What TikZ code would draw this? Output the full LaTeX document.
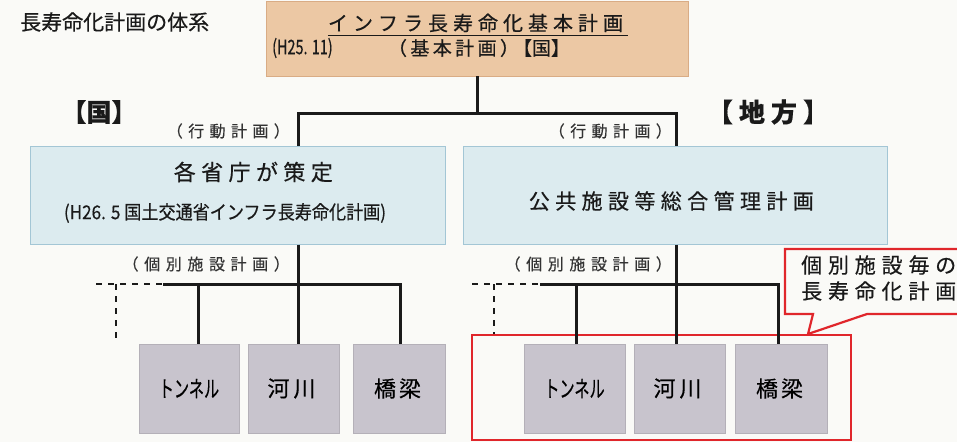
\documentclass[tikz,border=0pt]{standalone}
\usepackage{fontspec}
\setmainfont{Noto Sans CJK JP}[FakeBold=0.45]
\usepackage{graphicx}
\definecolor{bg}{HTML}{FAFAF7}
\definecolor{org}{HTML}{ECC8A4}
\definecolor{orgb}{HTML}{D9AC85}
\definecolor{blu}{HTML}{DCEBEF}
\definecolor{blub}{HTML}{A3C6D5}
\definecolor{gry}{HTML}{C8C4CD}
\definecolor{redc}{HTML}{E0262B}
\definecolor{txt}{HTML}{1A1A1A}
\definecolor{txtg}{HTML}{333333}
\newcommand{\fs}[1]{\fontsize{#1pt}{#1pt}\selectfont}
\ExplSyntaxOn
\NewDocumentCommand\spc{mm}{\tl_map_inline:nn {#2} {##1\hspace{#1}}\hspace{-#1}}
\ExplSyntaxOff
\tikzset{
  lbl/.style={inner sep=0pt, text=txt},
  glbl/.style={inner sep=0pt, text=txtg},
  orgbox/.style={draw=orgb, fill=org, line width=0.8pt},
  blubox/.style={draw=blub, fill=blu, line width=1pt},
  grybox/.style={fill=gry, draw=gry!90!black, line width=0.4pt},
  conn/.style={line width=3pt, draw=txt},
  dconn/.style={line width=2pt, draw=txt, dash pattern=on 6pt off 6pt},
  redline/.style={draw=redc, line width=2.8pt}
}
\begin{document}
\begin{tikzpicture}[x=1pt,y=-1pt]
\fill[bg] (0,0) rectangle (957,442);
\clip (0,0) rectangle (957,442);
\useasboundingbox (0,0) rectangle (957,442);

% title
\node[lbl, anchor=west] (ttl) at (20,22) {\fs{21}長寿命化計画の体系};

% top box
\node[orgbox, minimum width=422pt, minimum height=75pt] (top) at (477,38.5) {};
\node[lbl] (t1) at (478,23) {\fs{20}\spc{5pt}{インフラ長寿命化基本計画}};
\draw[txt, line width=1.3pt] ([yshift=-3pt]t1.south west) -- ([yshift=-3pt]t1.south east);
\node[lbl, anchor=west] (t2) at (272,48) {\fs{20}\scalebox{0.72}[1]{(H25. 11)}};
\node[lbl] (t3) at (479,48) {\fs{19}\spc{3.4pt}{（基本計画）}\kern-6pt【国】};

% region labels
\node[lbl] (kuni) at (99,112) {\fs{25}\bfseries 【国】};
\node[lbl] (chiho) at (771,112) {\fs{26}\bfseries \spc{6pt}{【地方】}};
\node[glbl] (kl) at (231,131) {\fs{16}\spc{5.4pt}{（行動計画）}};
\node[glbl] (kr) at (613,131) {\fs{16}\spc{5.4pt}{（行動計画）}};

% blue boxes
\node[blubox, minimum width=415pt, minimum height=98pt] (gov) at (237.5,195) {};
\node[lbl] (g1) at (256,172) {\fs{22}\spc{5.4pt}{各省庁が策定}};
\node[lbl] (g2) at (225,213) {\fs{19}\scalebox{0.9}[1]{(H26. 5 国土交通省インフラ長寿命化計画)}};
\node[blubox, minimum width=424pt, minimum height=98pt] (loc) at (675,195) {};
\node[lbl] (l1) at (674,201) {\fs{21}\spc{5.4pt}{公共施設等総合管理計画}};

\node[glbl] (il) at (209,264) {\fs{16}\spc{5.6pt}{（個別施設計画）}};
\node[glbl] (ir) at (591,264) {\fs{16}\spc{5.6pt}{（個別施設計画）}};

% red group frame
\node[redline, minimum width=379pt, minimum height=105pt, inner sep=0pt] (grp) at (661.5,387.5) {};

% small boxes
\node[grybox, minimum width=100pt, minimum height=89pt] (L1) at (189,388.5) {\fs{23}\scalebox{0.66}[1]{トンネル}};
\node[grybox, minimum width=91pt, minimum height=89pt] (L2) at (293.5,388.5) {\fs{22}\spc{4pt}{河川}};
\node[grybox, minimum width=92pt, minimum height=89pt] (L3) at (399,388.5) {\fs{22}\spc{3pt}{橋梁}};
\node[grybox, minimum width=101pt, minimum height=89pt] (R1) at (574.5,388.5) {\fs{23}\scalebox{0.66}[1]{トンネル}};
\node[grybox, minimum width=91pt, minimum height=89pt] (R2) at (679.5,388.5) {\fs{22}\spc{4pt}{河川}};
\node[grybox, minimum width=92pt, minimum height=89pt] (R3) at (781,388.5) {\fs{22}\spc{3pt}{橋梁}};

% connectors top
\coordinate (j0) at (477,113);
\coordinate (jl) at (298,113);
\coordinate (jr) at (676,113);
\draw[conn] (top.south) -- (j0);
\draw[conn] (jl |- gov.north) -- (jl) -- (jr) -- (jr |- loc.north);

% left lower tree
\coordinate (gl) at (298,284);
\coordinate (ga) at (198,284);
\coordinate (gc) at (400,284);
\coordinate (gd) at (163,284);
\coordinate (gx) at (96,284);
\coordinate (gy) at (116,284);
\coordinate (gz) at (116,338);
\draw[conn] (gl |- gov.south) -- (gl);
\draw[conn] (gd) -- (gc) -- (gc |- L3.north);
\draw[conn] (ga) -- (ga |- L1.north);
\draw[conn] (gl) -- (gl |- L2.north);
\draw[dconn] (gx) -- (gd);
\draw[dconn] (gy) -- (gz);

% right lower tree
\coordinate (rl) at (676,284);
\coordinate (ra) at (576,284);
\coordinate (rc) at (778,284);
\coordinate (rd) at (540,284);
\coordinate (rx) at (472,284);
\coordinate (ry) at (494,284);
\coordinate (rz) at (494,334);
\draw[conn] (rl |- loc.south) -- (rl);
\draw[conn] (rd) -- (rc) -- (rc |- R3.north);
\draw[conn] (ra) -- (ra |- R1.north);
\draw[conn] (rl) -- (rl |- R2.north);
\draw[dconn] (rx) -- (rd);
\draw[dconn] (ry) -- (rz);

% callout
\draw[draw=redc, line width=2.2pt, fill=bg, line join=miter]
  (813,314) -- (785,314) -- (785,249) -- (975,249) -- (975,314) -- (867,314) -- (808,334) -- cycle;
\node[lbl, anchor=west] (c1) at (801,265) {\fs{21}\spc{5.8pt}{個別施設毎の}};
\node[lbl, anchor=west] (c2) at (801,291) {\fs{21}\spc{5.8pt}{長寿命化計画}};
\end{tikzpicture}
\end{document}
